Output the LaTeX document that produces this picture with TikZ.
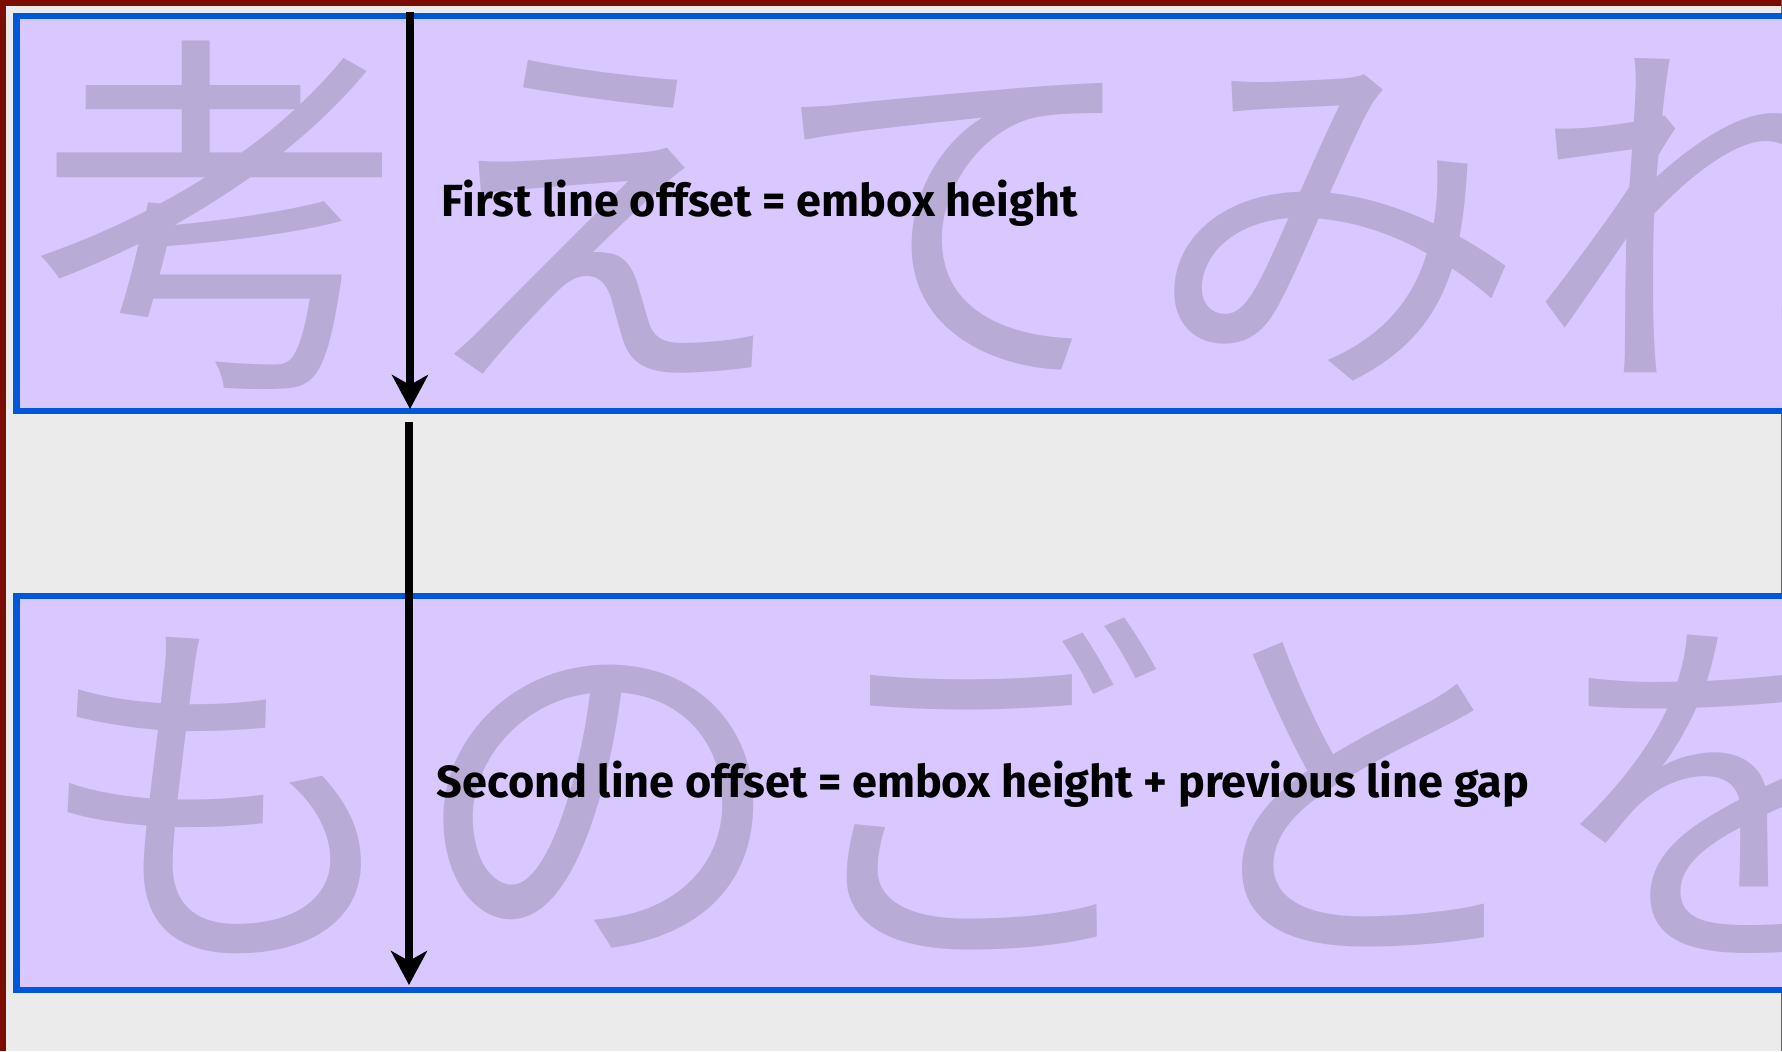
\documentclass[tikz,border=0pt]{standalone}
\usepackage{fontspec}
\usepackage{xcolor}
\usepackage{tikz}
\usetikzlibrary{arrows.meta}
\setmainfont{Fira Sans}
\newfontfamily\jpfont{Noto Sans CJK JP}

\definecolor{pagegrey}{RGB}{235,235,235}
\definecolor{framered}{RGB}{122,12,0}
\definecolor{emblue}{RGB}{0,87,217}
\definecolor{emfill}{RGB}{217,200,255}
\definecolor{glyphgrey}{RGB}{184,172,214}

\begin{document}
\begin{tikzpicture}[x=0.01cm,y=-0.01cm,
        embox/.style={draw=emblue,line width=0.06cm,fill=emfill},
        glyphrow/.style={inner sep=0pt,anchor=base west,text=glyphgrey,
            font=\jpfont\fontsize{107.5pt}{107.5pt}\selectfont},
        caption/.style={inner sep=0pt,anchor=base west,
            font=\bfseries\fontsize{12.8pt}{14pt}\selectfont},
        offset/.style={line width=0.08cm,-{Stealth[length=0.34cm,width=0.36cm,inset=0.1cm]}}]
        \useasboundingbox (0,0) rectangle (1782,1051);
        \clip (0,0) rectangle (1782,1051);
        \fill[pagegrey] (0,0) rectangle (1782,1051);
        \fill[framered] (0,0) rectangle (1782,6);
        \fill[framered] (0,0) rectangle (6,1051);
        \draw[black!60,line width=0.01cm] (1781.5,0)--(1781.5,1051);

        % the two lines of text and their em boxes
        \draw[embox] (16.5,16) rectangle (1900,411);
        \draw[embox] (16.5,595.5) rectangle (1900,990);
        \node[glyphrow] (row1) at (32,358) {考えてみれ};
        \node[glyphrow] (row2) at (32,936.5) {ものごとを};

        \coordinate (start1) at (410,12);
        \coordinate (end1) at (410,409);
        \coordinate (start2) at (409,422);
        \coordinate (end2) at (409,985);
        \draw[offset] (start1)--(end1);
        \draw[offset] (start2)--(end2);

        \node[caption] (cap1) at (441,216) {First line offset = embox height};
        \node[caption] (cap2) at (436,797) {Second line offset = embox height + previous line gap};
    \end{tikzpicture}
\end{document}
